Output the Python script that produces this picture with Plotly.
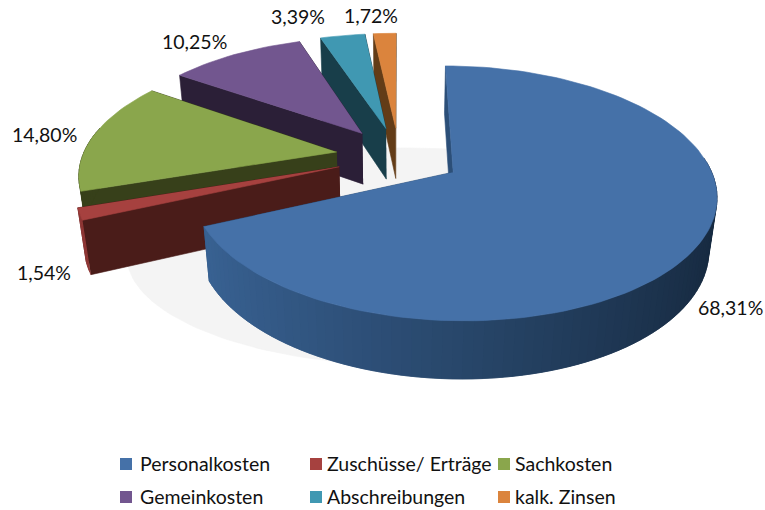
import numpy as np
import plotly.graph_objects as go

categories = ["Personalkosten", "Zuschüsse/ Erträge", "Sachkosten", "Gemeinkosten", "Abschreibungen", "kalk. Zinsen"]
shares = [68.31, 1.54, 14.80, 10.25, 3.39, 1.72]
top_colors = ["#4571A8", "#A6413F", "#8AA64C", "#72568F", "#4098B2", "#DB843D"]
wall_colors = ["#2C4F78", "#4A1C19", "#37401A", "#2B1F37", "#183E4A", "#633C17"]
label_xy = [(730, 307), (44, 272), (44, 134), (194, 41), (298, 16), (371, 15)]
legend_marker_x = [126, 316, 504, 126, 316, 504]
legend_text_x = [138, 325, 513, 138, 325, 513]
legend_y = [464, 464, 464, 497, 497, 497]

# projection of a unit-radius disc into the 765x510 canvas
CX, CY, A, B, PERSP, DEPTH, DEPTH_P = 399.0, 156.0, 258.0, 118.6, 0.163, 53.0, 0.025
PULL = 0.245
RX_MAIN, RX_REST = 0.98, 0.985


def project(X, Y, Z=0.0):
    X, Y = np.asarray(X, float), np.asarray(Y, float)
    den = 1 + PERSP * Y + DEPTH_P * Z
    return CX + A * X / den, CY - B * Y / den + DEPTH * Z / den


def lerp(c1, c2, t):
    a = [int(c1[i:i + 2], 16) for i in (1, 3, 5)]
    b = [int(c2[i:i + 2], 16) for i in (1, 3, 5)]
    return "rgb(%d,%d,%d)" % tuple(round(p + (q - p) * t) for p, q in zip(a, b))


def poly(fig, xs, ys, color):
    fig.add_trace(go.Scatter(x=xs, y=ys, mode="lines", fill="toself", fillcolor=color,
                             line=dict(color=color, width=0.6), hoverinfo="skip", showlegend=False))


fig = go.Figure()

# soft floor shadow
t = np.linspace(0, 2 * np.pi, 180)
sx, sy = project(1.13 * np.sin(t) + 0.04, 0.84 * np.cos(t), 1.7)
poly(fig, sx, sy, "#F4F4F4")

edges = np.cumsum([0] + shares) / sum(shares) * 2 * np.pi
for i in reversed(range(len(shares))):
    a0, a1 = edges[i], edges[i + 1]
    mid = (a0 + a1) / 2
    ox, oy = PULL * np.sin(mid), PULL * np.cos(mid)
    rad_x = RX_MAIN if i == 0 else RX_REST
    th = np.linspace(a0, a1, max(6, int((a1 - a0) * 30)))
    rx, ry = ox + rad_x * np.sin(th), oy + np.cos(th)

    # radial walls
    for a in (a1, a0):
        ex, ey = ox + rad_x * np.sin(a), oy + np.cos(a)
        wx, wy = project([ox, ex, ex, ox], [oy, ey, ey, oy], np.array([0, 0, 1, 1]))
        poly(fig, wx, wy, wall_colors[i])

    # outer wall, shaded by direction (strips overlap so no seams show)
    for j in range(len(th) - 1):
        if np.cos(th[j]) > 0.15:
            continue
        lx = (np.sin(th[j]) + 1) / 2
        if i == 0:
            shade = lerp("#3A6496", "#16293F", lx)
        elif i == 1:
            shade = lerp(top_colors[i], wall_colors[i], 0.25)
        else:
            shade = wall_colors[i]
        k = min(j + 2, len(th) - 1)
        wx, wy = project([rx[j], rx[k], rx[k], rx[j]], [ry[j], ry[k], ry[k], ry[j]], np.array([0, 0, 1, 1]))
        poly(fig, wx, wy, shade)

    # top face
    fx, fy = project(np.r_[ox, rx], np.r_[oy, ry], 0.0)
    poly(fig, fx, fy, top_colors[i])

# legend keys and labels
for name, color, mx, tx, ly in zip(categories, top_colors, legend_marker_x, legend_text_x, legend_y):
    fig.add_trace(go.Scatter(x=[mx], y=[ly], mode="markers", name=name, showlegend=False,
                             marker=dict(symbol="square", size=12, color=color)))
    fig.add_annotation(x=tx, y=ly - 1, xref="x", yref="y", showarrow=False, xanchor="left",
                       text=name, font=dict(family="Lato", size=19.5, color="#111111"))

for v, (lx, ly) in zip(shares, label_xy):
    fig.add_annotation(x=lx, y=ly, xref="x", yref="y", showarrow=False,
                       text=f"{v:.2f}".replace(".", ",") + "%",
                       font=dict(family="Lato", size=19.5, color="#111111"))

fig.update_layout(
    width=765, height=510, margin=dict(l=0, r=0, t=0, b=0),
    paper_bgcolor="white", plot_bgcolor="white", showlegend=False,
    xaxis=dict(visible=False, range=[0, 765], fixedrange=True),
    yaxis=dict(visible=False, range=[510, 0], fixedrange=True),
)
fig.write_html("out.html", config={"displayModeBar": False}, post_script="document.body.style.margin='0';")
